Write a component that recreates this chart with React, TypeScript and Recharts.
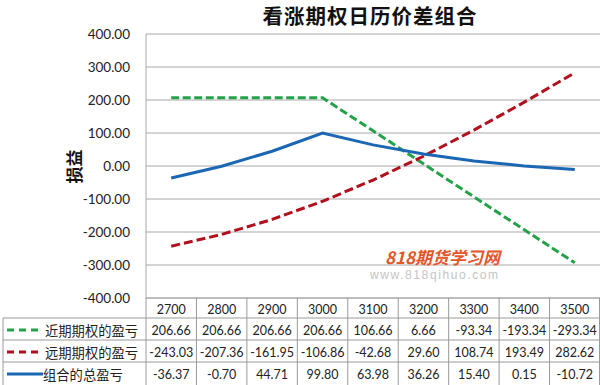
import React from 'react';
import { LineChart, Line, XAxis, YAxis, CartesianGrid } from 'recharts';

const strikes = [2700, 2800, 2900, 3000, 3100, 3200, 3300, 3400, 3500];
const nearPnl = [206.66, 206.66, 206.66, 206.66, 106.66, 6.66, -93.34, -193.34, -293.34];
const farPnl = [-243.03, -207.36, -161.95, -106.86, -42.68, 29.6, 108.74, 193.49, 282.62];
const totalPnl = [-36.37, -0.7, 44.71, 99.8, 63.98, 36.26, 15.4, 0.15, -10.72];
const yTicks = [400, 300, 200, 100, 0, -100, -200, -300, -400];
const seriesNames = ['近期期权的盈亏', '远期期权的盈亏', '组合的总盈亏'];
const titleText = '看涨期权日历价差组合';
const yLabelText = '损益';
const watermarkMain = '818期货学习网';
const watermarkSub = 'www.818qihuo.com';

const data = strikes.map((s, i) => ({ x: s, near: nearPnl[i], far: farPnl[i], total: totalPnl[i] }));

const series = [
  { key: 'near', values: nearPnl, color: '#23a24a', dash: '8 3.5' },
  { key: 'far', values: farPnl, color: '#b3101e', dash: '9 4' },
  { key: 'total', values: totalPnl, color: '#1b67b3', dash: undefined as string | undefined },
];

const W = 600;
const H = 385;
const PLOT_LEFT = 146;
const PLOT_TOP = 34;
const PLOT_BOTTOM = 298;
const PLOT_W = W - PLOT_LEFT;
const BW = PLOT_W / strikes.length;
const GRID = '#a8a8a8';
const TABLE_LINE = '#9a9a9a';
const NUM_FONT = 'Lato, Carlito, Calibri, "Liberation Sans", sans-serif';
const CJK_FONT = '"Noto Sans CJK SC", "Microsoft YaHei", sans-serif';
const ROW_H = 22;
const HEAD_H = 20;

const YTick = (props: any) => {
  const { x, y, payload } = props;
  return (
    <text x={x - 16} y={y} textAnchor="end" dominantBaseline="central" fontFamily={NUM_FONT} fontSize={13.5} fill="#222">
      {Number(payload.value).toFixed(2)}
    </text>
  );
};

const XTick = (props: any) => {
  const { x, y, payload, index } = props;
  const left = x - BW / 2;
  const right = x + BW / 2;
  const rowsTop = y + HEAD_H;
  const bottom = H;
  const els: React.ReactNode[] = [];
  els.push(<line key="vl" x1={left} x2={left} y1={y} y2={bottom} stroke={TABLE_LINE} strokeWidth={1} />);
  if (index === strikes.length - 1) {
    els.push(<line key="vr" x1={right - 0.5} x2={right - 0.5} y1={y} y2={bottom} stroke={TABLE_LINE} strokeWidth={1} />);
  }
  els.push(
    <text key="h" x={x} y={y + HEAD_H / 2 + 1} textAnchor="middle" dominantBaseline="central" fontFamily={NUM_FONT} fontSize={12.5} fill="#222">
      {payload.value}
    </text>
  );
  series.forEach((s, r) => {
    const top = rowsTop + r * ROW_H;
    els.push(<line key={'hl' + r} x1={left} x2={right} y1={top} y2={top} stroke={TABLE_LINE} strokeWidth={1} />);
    els.push(
      <text key={'v' + r} x={x} y={top + ROW_H / 2 + 1} textAnchor="middle" dominantBaseline="central" fontFamily={NUM_FONT} fontSize={12.5} fill="#222">
        {s.values[index].toFixed(2)}
      </text>
    );
  });
  if (index === 0) {
    const lx = 3;
    els.push(<line key="lv" x1={lx} x2={lx} y1={rowsTop} y2={bottom} stroke={TABLE_LINE} strokeWidth={1} />);
    series.forEach((s, r) => {
      const top = rowsTop + r * ROW_H;
      const cy = top + ROW_H / 2 + 1;
      els.push(<line key={'lh' + r} x1={lx} x2={left} y1={top} y2={top} stroke={TABLE_LINE} strokeWidth={1} />);
      els.push(
        <line key={'ls' + r} x1={7} x2={s.dash ? 38 : 43} y1={cy} y2={cy} stroke={s.color} strokeWidth={3} strokeDasharray={s.dash ? '7 5' : undefined} />
      );
      els.push(
        <text key={'lt' + r} x={s.dash ? 45 : 43} y={cy} dominantBaseline="central" fontFamily={CJK_FONT} fontSize={13.3} fill="#222">
          {seriesNames[r]}
        </text>
      );
    });
  }
  return <g>{els}</g>;
};

export default function App() {
  return (
    <div style={{ position: 'absolute', left: 0, top: 0, width: W, height: H, background: '#fff', overflow: 'hidden' }}>
      <LineChart width={W} height={H} data={data} margin={{ top: PLOT_TOP, right: 0, bottom: 0, left: 0 }}>
        <CartesianGrid vertical={false} stroke={GRID} strokeWidth={1} />
        <XAxis
          dataKey="x"
          type="category"
          height={H - PLOT_BOTTOM}
          padding={{ left: BW / 2, right: BW / 2 }}
          tickSize={0}
          tickMargin={0}
          tickLine={false}
          axisLine={{ stroke: GRID }}
          interval={0}
          tick={<XTick />}
        />
        <YAxis
          type="number"
          domain={[-400, 400]}
          ticks={yTicks}
          width={PLOT_LEFT}
          tickSize={0}
          tickMargin={0}
          tickLine={false}
          axisLine={{ stroke: GRID }}
          interval={0}
          tick={<YTick />}
        />
        {series.map((s, i) => (
          <Line
            key={s.key}
            dataKey={s.key}
            name={seriesNames[i]}
            type="linear"
            stroke={s.color}
            strokeWidth={3}
            strokeDasharray={s.dash}
            dot={false}
            activeDot={false}
            isAnimationActive={false}
          />
        ))}
      </LineChart>
      <div style={{ position: 'absolute', left: 10, width: 720, top: 2, textAlign: 'center', fontFamily: CJK_FONT, fontWeight: 700, fontSize: 20.5, letterSpacing: 1, color: '#111', lineHeight: '26px' }}>
        {titleText}
      </div>
      <div style={{ position: 'absolute', left: 56, top: 148, width: 34, height: 36, display: 'flex', alignItems: 'center', justifyContent: 'center' }}>
        <div style={{ transform: 'rotate(-90deg)', whiteSpace: 'nowrap', fontFamily: CJK_FONT, fontWeight: 700, fontSize: 17, color: '#111' }}>{yLabelText}</div>
      </div>
      <div style={{ position: 'absolute', left: 385, top: 246, fontFamily: CJK_FONT, fontWeight: 700, fontStyle: 'italic', fontSize: 17, color: '#e4572a', lineHeight: '22px', whiteSpace: 'nowrap' }}>
        {watermarkMain}
      </div>
      <div style={{ position: 'absolute', left: 370, top: 267, fontFamily: '"Liberation Sans", sans-serif', fontSize: 12, letterSpacing: 1.6, color: '#c4c4c4', lineHeight: '16px', whiteSpace: 'nowrap' }}>
        {watermarkSub}
      </div>
    </div>
  );
}
